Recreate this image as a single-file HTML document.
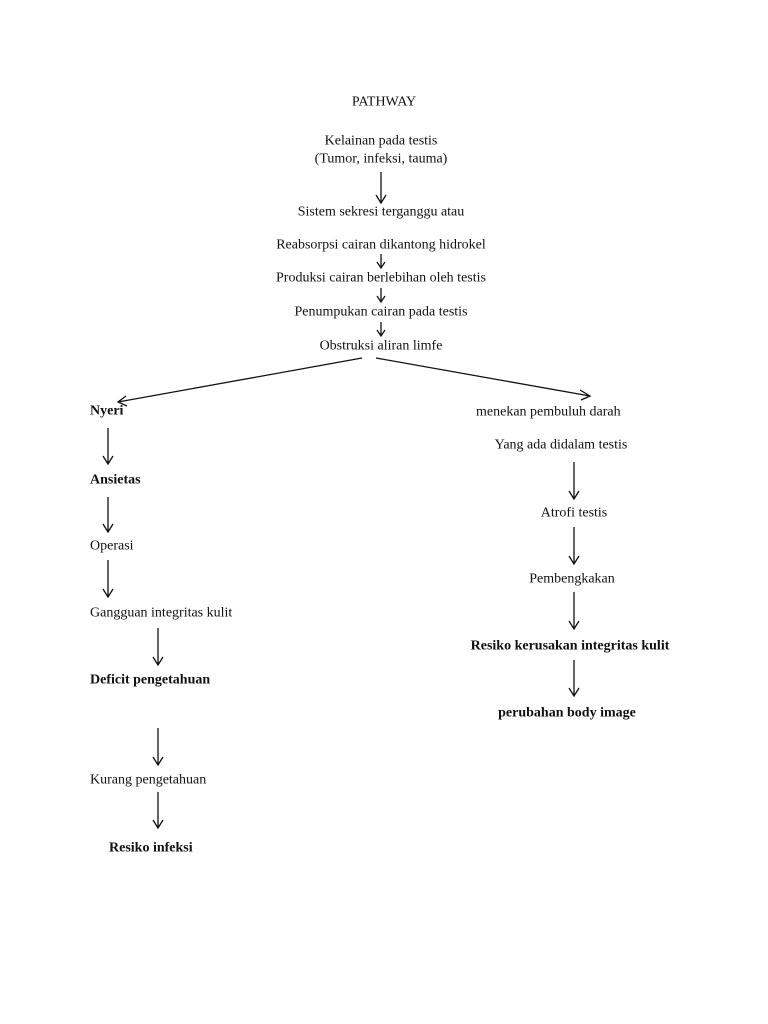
<!DOCTYPE html>
<html><head><meta charset="utf-8"><style>
html,body{margin:0;padding:0;background:#fff}
svg{display:block}
text{font-family:"Liberation Serif",serif;font-size:14px;fill:#111}
.b{font-weight:bold}
</style></head><body>
<svg width="768" height="1024" viewBox="0 0 768 1024" xmlns="http://www.w3.org/2000/svg">
<g text-anchor="middle" dominant-baseline="central">
<text x="384" y="102">PATHWAY</text>
<text x="381" y="141">Kelainan pada testis</text>
<text x="381" y="159">(Tumor, infeksi, tauma)</text>
<text x="381" y="212">Sistem sekresi terganggu atau</text>
<text x="381" y="245">Reabsorpsi cairan dikantong hidrokel</text>
<text x="381" y="278">Produksi cairan berlebihan oleh testis</text>
<text x="381" y="312">Penumpukan cairan pada testis</text>
<text x="381" y="346">Obstruksi aliran limfe</text>
<text x="561" y="445">Yang ada didalam testis</text>
<text x="574" y="513">Atrofi testis</text>
<text x="572" y="579">Pembengkakan</text>
<text x="570" y="646" class="b">Resiko kerusakan integritas kulit</text>
<text x="567" y="713" class="b">perubahan body image</text>
</g>
<g dominant-baseline="central">
<text x="476" y="412">menekan pembuluh darah</text>
<text x="90" y="411" class="b">Nyeri</text>
<text x="90" y="480" class="b">Ansietas</text>
<text x="90" y="546">Operasi</text>
<text x="90" y="613">Gangguan integritas kulit</text>
<text x="90" y="680" class="b">Deficit pengetahuan</text>
<text x="90" y="780">Kurang pengetahuan</text>
<text x="109" y="848" class="b">Resiko infeksi</text>
</g>
<g stroke="#111" stroke-width="1.3" fill="none">
<!-- vertical arrows: x, y1, y2 -->
<path d="M381 172V203M376 195L381 203L386 195"/>
<path d="M381 254V268M377 262L381 268L385 262"/>
<path d="M381 288V302M377 296L381 302L385 296"/>
<path d="M381 322V336M377 330L381 336L385 330"/>
<path d="M362 358L118 402M126 396L118 402L127 406"/>
<path d="M376 358L590 396M580 390L590 396L581 400"/>
<path d="M108 428V464M103 456L108 464L113 456"/>
<path d="M108 497V532M103 524L108 532L113 524"/>
<path d="M108 560V597M103 589L108 597L113 589"/>
<path d="M158 628V665M153 657L158 665L163 657"/>
<path d="M158 728V765M153 757L158 765L163 757"/>
<path d="M158 792V828M153 820L158 828L163 820"/>
<path d="M574 462V499M569 491L574 499L579 491"/>
<path d="M574 527V564M569 556L574 564L579 556"/>
<path d="M574 592V629M569 621L574 629L579 621"/>
<path d="M574 660V696M569 688L574 696L579 688"/>
</g>
</svg>
</body></html>
